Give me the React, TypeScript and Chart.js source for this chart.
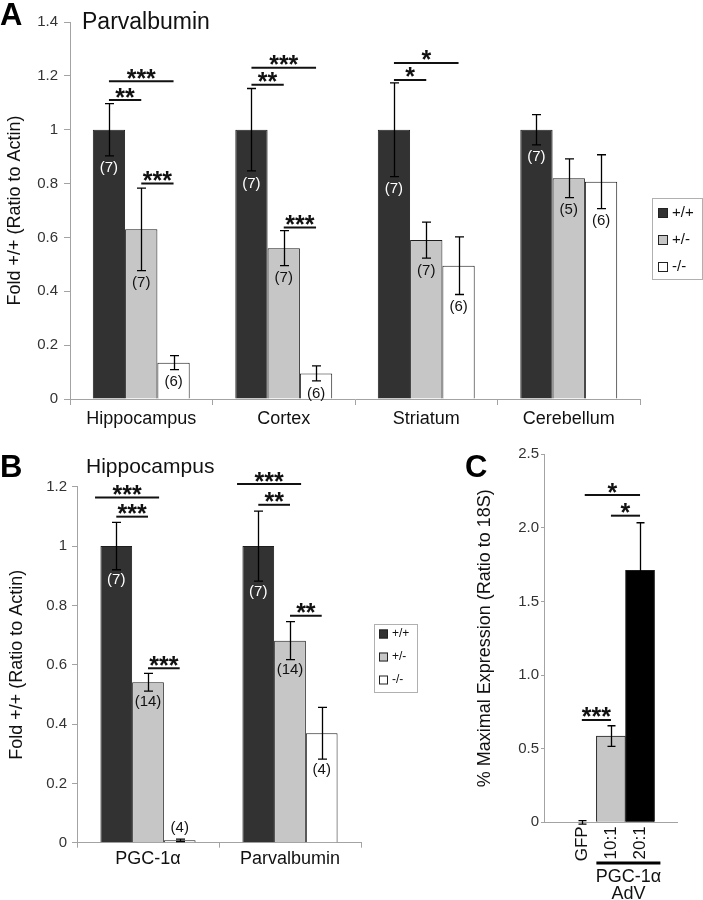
import React, { useEffect, useRef } from 'react';
import { Chart, registerables } from 'chart.js';

Chart.register(...registerables);

const FONT = "'Liberation Sans', Arial, Helvetica, sans-serif";
const AXIS = '#a3a3a3';
const INK = '#111111';
const DARK = '#323232';
const GRAY = '#c6c6c6';
const WHITE = '#ffffff';
const EDGE = '#1e1e1e';

// ---------------- Panel A ----------------
const genotypes = ['+/+', '+/-', '-/-'];
const regionsA = ['Hippocampus', 'Cortex', 'Striatum', 'Cerebellum'];
const wtA = [1.0, 1.0, 1.0, 1.0];
const hetA = [0.63, 0.56, 0.59, 0.82];
const koA = [0.135, 0.095, 0.495, 0.807];
const wtErrA = [0.097, 0.153, 0.174, 0.056];
const hetErrA = [0.153, 0.065, 0.067, 0.072];
const koErrA = [0.026, 0.028, 0.107, 0.1];
const wtNA = [7, 7, 7, 7];
const hetNA = [7, 7, 7, 5];
const koNA = [6, 6, 6, 6];
const yTicksA = [0, 0.2, 0.4, 0.6, 0.8, 1.0, 1.2, 1.4];
const yTickLabelsA = ['0', '0.2', '0.4', '0.6', '0.8', '1', '1.2', '1.4'];
const sigCatA = [0, 0, 0, 1, 1, 1, 2, 2];
const sigFromA = [0, 0, 1, 0, 0, 1, 0, 0];
const sigToA = [1, 2, 2, 1, 2, 2, 1, 2];
const sigYA = [1.11, 1.18, 0.8, 1.167, 1.23, 0.637, 1.185, 1.248];
const sigStarsA = ['**', '***', '***', '**', '***', '***', '*', '*'];

// ---------------- Panel B ----------------
const genesB = ['PGC-1α', 'Parvalbumin'];
const wtB = [1.0, 1.0];
const hetB = [0.541, 0.681];
const koB = [0.008, 0.369];
const wtErrB = [0.08, 0.118];
const hetErrB = [0.03, 0.064];
const koErrB = [0.004, 0.087];
const wtNB = [7, 7];
const hetNB = [14, 14];
const koNB = [4, 4];
const koNAboveB = [true, false];
const yTicksB = [0, 0.2, 0.4, 0.6, 0.8, 1.0, 1.2];
const yTickLabelsB = ['0', '0.2', '0.4', '0.6', '0.8', '1', '1.2'];
const sigCatB = [0, 0, 0, 1, 1, 1];
const sigFromB = [-0.67, 0, 1, -0.67, 0, 1];
const sigToB = [1.35, 1, 2, 1.35, 1, 2];
const sigYB = [1.164, 1.099, 0.588, 1.209, 1.139, 0.765];
const sigStarsB = ['***', '***', '***', '***', '**', '**'];

// ---------------- Panel C ----------------
const groupsC = ['GFP', '10:1', '20:1'];
const posC = [0, 1, 2];
const valuesC = [0, 0.586, 1.712];
const errC = [0.012, 0.07, 0.323];
const yTicksC = [0, 0.5, 1.0, 1.5, 2.0, 2.5];
const yTickLabelsC = ['0', '0.5', '1.0', '1.5', '2.0', '2.5'];
const sigFromC = [0, 0.1, 1];
const sigToC = [1, 2, 2];
const sigYC = [0.695, 2.223, 2.083];
const sigStarsC = ['***', '*', '*'];
const groupLabelC = ['PGC-1α', 'AdV'];

const STAR_FONT = `bold 25px ${FONT}`;

function drawErr(ctx: CanvasRenderingContext2D, x: number, yt: number, yb: number, cap: number) {
  ctx.beginPath();
  ctx.moveTo(x, yt);
  ctx.lineTo(x, yb);
  ctx.moveTo(x - cap / 2, yt);
  ctx.lineTo(x + cap / 2, yt);
  ctx.moveTo(x - cap / 2, yb);
  ctx.lineTo(x + cap / 2, yb);
  ctx.stroke();
}

function drawBracket(ctx: CanvasRenderingContext2D, x1: number, x2: number, y: number, stars: string) {
  ctx.strokeStyle = INK;
  ctx.lineWidth = 2;
  ctx.beginPath();
  ctx.moveTo(x1, y);
  ctx.lineTo(x2, y);
  ctx.stroke();
  ctx.font = STAR_FONT;
  ctx.fillStyle = INK;
  ctx.textAlign = 'center';
  ctx.textBaseline = 'alphabetic';
  const m = ctx.measureText(stars);
  const cy = y - 7.5;
  const base = cy + (m.actualBoundingBoxAscent - m.actualBoundingBoxDescent) / 2;
  ctx.fillText(stars, (x1 + x2) / 2, base);
}

type GroupedCfg = {
  id: string;
  errs: number[][];
  ns: number[][];
  nAbove: boolean[][];
  nGap: number;
  nSize: number;
  cap: number;
  sigCat: number[];
  sigFrom: number[];
  sigTo: number[];
  sigY: number[];
  sigStars: string[];
  letter: string;
  letterX: number;
  letterY: number;
  title: string;
  titleSize: number;
  titleX: number;
  titleY: number;
  legend: { x: number; y: number; w: number; h: number; rows: number[]; sqX: number; sq: number; textX: number; size: number };
};

function groupedPlugin(p: GroupedCfg) {
  return {
    id: p.id,
    afterDraw(chart: any) {
      const ctx: CanvasRenderingContext2D = chart.ctx;
      const ys = chart.scales.y;
      ctx.save();
      ctx.fillStyle = '#000';
      ctx.textAlign = 'left';
      ctx.textBaseline = 'alphabetic';
      ctx.font = `bold 31px ${FONT}`;
      ctx.fillText(p.letter, p.letterX, p.letterY);
      ctx.font = `${p.titleSize}px ${FONT}`;
      ctx.fillStyle = INK;
      ctx.fillText(p.title, p.titleX, p.titleY);

      const nds = chart.data.datasets.length;
      for (let d = 0; d < nds; d++) {
        const meta = chart.getDatasetMeta(d);
        const vals = chart.data.datasets[d].data as number[];
        meta.data.forEach((bar: any, i: number) => {
          const v = vals[i];
          const e = p.errs[d][i];
          const x = Math.round(bar.x) + 0.5;
          const yt = ys.getPixelForValue(v + e);
          const yb = ys.getPixelForValue(v - e);
          ctx.strokeStyle = '#000';
          ctx.lineWidth = 1.3;
          drawErr(ctx, x, yt, yb, p.cap);
          ctx.font = `${p.nSize}px ${FONT}`;
          ctx.textAlign = 'center';
          ctx.textBaseline = 'middle';
          ctx.fillStyle = d === 0 ? '#ffffff' : INK;
          const ny = p.nAbove[d][i] ? ys.getPixelForValue(v) - 12 : yb + p.nGap;
          ctx.fillText(`(${p.ns[d][i]})`, bar.x, ny);
        });
      }

      for (let k = 0; k < p.sigCat.length; k++) {
        const c = p.sigCat[k];
        const c0 = chart.getDatasetMeta(0).data[c].x;
        const c1 = chart.getDatasetMeta(1).data[c].x;
        const step = c1 - c0;
        drawBracket(ctx, c0 + p.sigFrom[k] * step, c0 + p.sigTo[k] * step, ys.getPixelForValue(p.sigY[k]), p.sigStars[k]);
      }

      const L = p.legend;
      ctx.fillStyle = '#ffffff';
      ctx.fillRect(L.x, L.y, L.w, L.h);
      ctx.strokeStyle = '#b0b0b0';
      ctx.lineWidth = 1;
      ctx.strokeRect(L.x + 0.5, L.y + 0.5, L.w, L.h);
      ctx.font = `${L.size}px ${FONT}`;
      ctx.textAlign = 'left';
      ctx.textBaseline = 'middle';
      for (let d = 0; d < nds; d++) {
        const ds = chart.data.datasets[d];
        const ry = L.rows[d];
        ctx.fillStyle = ds.backgroundColor;
        ctx.fillRect(L.sqX, ry - L.sq / 2, L.sq, L.sq);
        ctx.strokeStyle = '#222';
        ctx.strokeRect(L.sqX + 0.5, ry - L.sq / 2 + 0.5, L.sq - 1, L.sq - 1);
        ctx.fillStyle = INK;
        ctx.fillText(ds.label, L.textX, ry);
      }
      ctx.restore();
    },
  };
}

function groupedConfig(opts: {
  labels: string[];
  series: number[][];
  yMax: number;
  yTicks: number[];
  yTickLabels: string[];
  yTitle: string;
  yWidth: number;
  xHeight: number;
  padTop: number;
  padRight: number;
  catPct: number;
  tickLen: number;
  tickPad: number;
  xTickLen: number;
  xTickPad: number;
  titlePad: number;
  plugin: any;
}) {
  const colors = [DARK, GRAY, WHITE];
  return {
    type: 'bar',
    data: {
      labels: opts.labels,
      datasets: opts.series.map((s, d) => ({
        label: genotypes[d],
        data: s,
        backgroundColor: colors[d],
        borderColor: EDGE,
        borderWidth: 1,
        categoryPercentage: opts.catPct,
        barPercentage: 1,
      })),
    },
    options: {
      animation: false,
      responsive: false,
      devicePixelRatio: 1,
      layout: { padding: { top: opts.padTop, right: opts.padRight, left: 0, bottom: 0 } },
      plugins: { legend: { display: false }, tooltip: { enabled: false }, title: { display: false } },
      scales: {
        x: {
          grid: { display: true, drawOnChartArea: false, drawTicks: true, tickLength: opts.xTickLen, color: AXIS, offset: true },
          border: { display: true, color: AXIS, width: 1 },
          ticks: { font: { family: FONT, size: 18 }, color: INK, padding: opts.xTickPad, maxRotation: 0 },
          afterFit: (s: any) => { s.height = opts.xHeight; },
        },
        y: {
          min: 0,
          max: opts.yMax,
          afterBuildTicks: (s: any) => { s.ticks = opts.yTicks.map((v) => ({ value: v })); },
          ticks: {
            callback: (_v: any, i: number) => opts.yTickLabels[i],
            font: { family: FONT, size: 15 },
            color: '#333',
            padding: opts.tickPad,
          },
          grid: { display: true, drawOnChartArea: false, drawTicks: true, tickLength: opts.tickLen, color: AXIS },
          border: { display: true, color: AXIS, width: 1 },
          title: {
            display: true,
            text: opts.yTitle,
            font: { family: FONT, size: 18 },
            color: INK,
            padding: { top: opts.titlePad, bottom: 0 },
          },
          afterFit: (s: any) => { s.width = opts.yWidth; },
        },
      },
    },
    plugins: [opts.plugin],
  };
}

function makeA() {
  return groupedConfig({
    labels: regionsA,
    series: [wtA, hetA, koA],
    yMax: 1.4,
    yTicks: yTicksA,
    yTickLabels: yTickLabelsA,
    yTitle: 'Fold +/+ (Ratio to Actin)',
    yWidth: 70,
    xHeight: 41,
    padTop: 22,
    padRight: 63,
    catPct: 0.68,
    tickLen: 6,
    tickPad: 6,
    xTickLen: 6,
    xTickPad: 3,
    titlePad: 4,
    plugin: groupedPlugin({
      id: 'annotA',
      errs: [wtErrA, hetErrA, koErrA],
      ns: [wtNA, hetNA, koNA],
      nAbove: [[false, false, false, false], [false, false, false, false], [false, false, false, false]],
      nGap: 12.5,
      nSize: 15,
      cap: 9,
      sigCat: sigCatA,
      sigFrom: sigFromA,
      sigTo: sigToA,
      sigY: sigYA,
      sigStars: sigStarsA,
      letter: 'A',
      letterX: 0,
      letterY: 25,
      title: 'Parvalbumin',
      titleSize: 23,
      titleX: 82,
      titleY: 29,
      legend: { x: 652, y: 198, w: 50, h: 81, rows: [213, 240, 267], sqX: 658, sq: 10, textX: 672, size: 15 },
    }),
  });
}

function makeB() {
  return groupedConfig({
    labels: genesB,
    series: [wtB, hetB, koB],
    yMax: 1.2,
    yTicks: yTicksB,
    yTickLabels: yTickLabelsB,
    yTitle: 'Fold +/+ (Ratio to Actin)',
    yWidth: 77,
    xHeight: 57.3,
    padTop: 66.7,
    padRight: 79,
    catPct: 0.67,
    tickLen: 5,
    tickPad: 5,
    xTickLen: 5,
    xTickPad: 1,
    titlePad: 6,
    plugin: groupedPlugin({
      id: 'annotB',
      errs: [wtErrB, hetErrB, koErrB],
      ns: [wtNB, hetNB, koNB],
      nAbove: [[false, false], [false, false], koNAboveB],
      nGap: 10.5,
      nSize: 15,
      cap: 9,
      sigCat: sigCatB,
      sigFrom: sigFromB,
      sigTo: sigToB,
      sigY: sigYB,
      sigStars: sigStarsB,
      letter: 'B',
      letterX: 0,
      letterY: 57,
      title: 'Hippocampus',
      titleSize: 21,
      titleX: 86,
      titleY: 53,
      legend: { x: 374, y: 204, w: 43, h: 68, rows: [214, 237, 260], sqX: 379, sq: 9, textX: 392, size: 12 },
    }),
  });
}

const plugC = {
  id: 'annotC',
  afterDraw(chart: any) {
    const ctx: CanvasRenderingContext2D = chart.ctx;
    const xs = chart.scales.x;
    const ys = chart.scales.y;
    ctx.save();
    ctx.fillStyle = '#000';
    ctx.textAlign = 'left';
    ctx.textBaseline = 'alphabetic';
    ctx.font = `bold 31px ${FONT}`;
    ctx.fillText('C', 25, 57);

    ctx.strokeStyle = '#000';
    ctx.lineWidth = 1.3;
    posC.forEach((p, i) => {
      const x = Math.round(xs.getPixelForValue(p)) + 0.5;
      drawErr(ctx, x, ys.getPixelForValue(valuesC[i] + errC[i]), ys.getPixelForValue(valuesC[i] - errC[i]), 8);
    });

    for (let k = 0; k < sigFromC.length; k++) {
      drawBracket(ctx, xs.getPixelForValue(sigFromC[k]), xs.getPixelForValue(sigToC[k]), ys.getPixelForValue(sigYC[k]), sigStarsC[k]);
    }

    const axisY = chart.chartArea.bottom;
    ctx.fillStyle = INK;
    ctx.font = `17px ${FONT}`;
    posC.forEach((p, i) => {
      ctx.save();
      ctx.translate(xs.getPixelForValue(p), axisY + 4);
      ctx.rotate(-Math.PI / 2);
      ctx.textAlign = 'right';
      ctx.textBaseline = 'middle';
      ctx.fillText(groupsC[i], 0, 0);
      ctx.restore();
    });

    const gx1 = xs.getPixelForValue(0.5);
    const gx2 = xs.getPixelForValue(2.7);
    ctx.strokeStyle = '#000';
    ctx.lineWidth = 3;
    ctx.beginPath();
    ctx.moveTo(gx1, 443);
    ctx.lineTo(gx2, 443);
    ctx.stroke();
    ctx.font = `18px ${FONT}`;
    ctx.textAlign = 'center';
    ctx.textBaseline = 'alphabetic';
    ctx.fillText(groupLabelC[0], (gx1 + gx2) / 2, 462);
    ctx.fillText(groupLabelC[1], (gx1 + gx2) / 2, 479);
    ctx.restore();
  },
};

function makeC() {
  return {
    type: 'bar',
    data: {
      datasets: [
        {
          label: 'PGC-1α expression',
          data: posC.map((p, i) => ({ x: p, y: valuesC[i] })),
          backgroundColor: [GRAY, GRAY, '#000000'],
          borderColor: EDGE,
          borderWidth: 1,
          categoryPercentage: 1,
          barPercentage: 1,
        },
      ],
    },
    options: {
      animation: false,
      responsive: false,
      devicePixelRatio: 1,
      layout: { padding: { top: 34.3, right: 26, left: 0, bottom: 0 } },
      plugins: { legend: { display: false }, tooltip: { enabled: false } },
      scales: {
        x: {
          type: 'linear',
          min: -1.3,
          max: 3.27,
          offset: false,
          grid: { display: false, offset: false },
          border: { display: true, color: AXIS, width: 1 },
          ticks: { display: false },
          afterFit: (s: any) => { s.height = 77.7; },
        },
        y: {
          min: 0,
          max: 2.5,
          afterBuildTicks: (s: any) => { s.ticks = yTicksC.map((v) => ({ value: v })); },
          ticks: {
            callback: (_v: any, i: number) => yTickLabelsC[i],
            font: { family: FONT, size: 15 },
            color: '#333',
            padding: 2,
          },
          grid: { display: true, drawOnChartArea: false, drawTicks: true, tickLength: 3, color: AXIS },
          border: { display: true, color: AXIS, width: 1 },
          title: {
            display: true,
            text: '% Maximal Expression (Ratio to 18S)',
            font: { family: FONT, size: 18 },
            color: INK,
            padding: { top: 34, bottom: 0 },
          },
          afterFit: (s: any) => { s.width = 104; },
        },
      },
    },
    plugins: [plugC],
  };
}

function ChartCanvas(props: { left: number; top: number; width: number; height: number; make: () => any }) {
  const ref = useRef<HTMLCanvasElement>(null);
  useEffect(() => {
    const chart = new Chart(ref.current as HTMLCanvasElement, props.make());
    return () => chart.destroy();
  }, []);
  return (
    <canvas
      ref={ref}
      width={props.width}
      height={props.height}
      style={{ position: 'absolute', left: props.left, top: props.top, width: props.width, height: props.height }}
    />
  );
}

export default function App() {
  return (
    <div style={{ position: 'absolute', left: 0, top: 0, width: 703, height: 900, background: '#fff', overflow: 'hidden' }}>
      <ChartCanvas left={0} top={0} width={703} height={440} make={makeA} />
      <ChartCanvas left={0} top={420} width={440} height={480} make={makeB} />
      <ChartCanvas left={440} top={420} width={263} height={480} make={makeC} />
    </div>
  );
}
